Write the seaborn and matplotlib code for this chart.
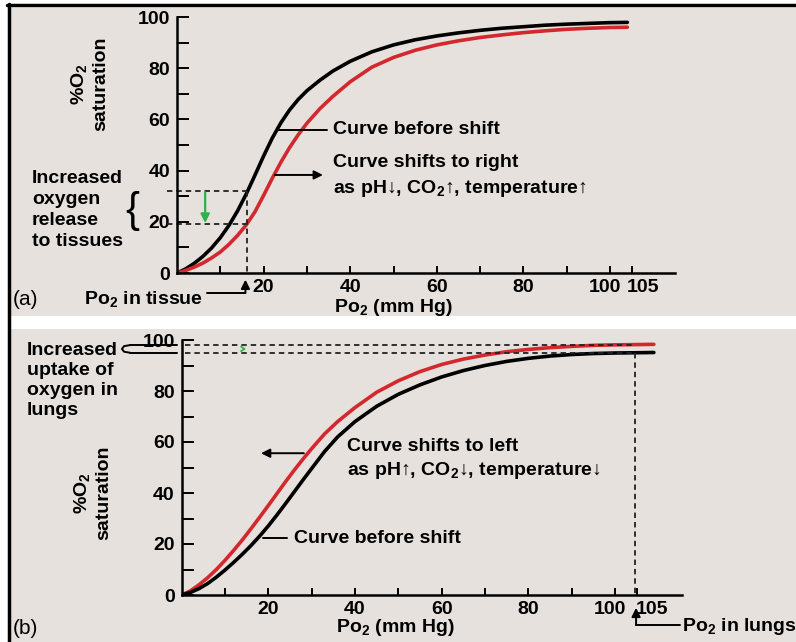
import matplotlib
matplotlib.use("Agg")
import matplotlib.pyplot as plt
from matplotlib.patches import Rectangle
from matplotlib.lines import Line2D
from matplotlib.transforms import ScaledTranslation
import seaborn as sns

# ---------------------------------------------------------
# Data
# ---------------------------------------------------------
# (a) shift to the right
po2_a = [0, 2, 4, 6, 8, 10, 12, 14, 16, 18, 20, 22, 24, 26, 28, 30, 33, 36, 40,
         45, 50, 55, 60, 65, 70, 75, 80, 85, 90, 95, 100, 104]
sat_before_a = [0, 1.6, 3.8, 6.5, 9.8, 13.8, 18.6, 24.3, 30.9, 38.2, 45.7, 52.7,
                58.7, 63.7, 67.8, 71.2, 75.3, 78.9, 82.7, 86.4, 89.1, 91.1, 92.6,
                93.8, 94.8, 95.6, 96.2, 96.8, 97.2, 97.5, 97.8, 97.9]
sat_right_a = [0, 1.0, 2.3, 3.9, 5.9, 8.2, 11.2, 14.7, 18.8, 23.9, 30.3, 37.0,
               43.3, 49.0, 54.0, 58.5, 64.2, 69.0, 74.7, 80.4, 84.2, 87.0, 89.1,
               90.7, 92.0, 93.0, 93.9, 94.6, 95.2, 95.6, 95.9, 96.0]

# (b) shift to the left
po2_b = [0, 2, 4, 6, 8, 10, 12, 14, 16, 18, 20, 22, 24, 26, 28, 30, 33, 36, 40,
         45, 50, 55, 60, 65, 70, 75, 80, 85, 90, 95, 100, 105, 109]
sat_before_b = [0, 1.0, 2.5, 4.5, 7.0, 9.8, 12.8, 16.0, 19.4, 23.1, 27.1, 31.4,
                35.9, 40.5, 45.1, 49.6, 56.3, 62.0, 68.0, 74.0, 78.7, 82.4, 85.5,
                88.0, 90.0, 91.6, 92.8, 93.7, 94.3, 94.7, 94.9, 95.0, 95.1]
sat_left_b = [0, 1.6, 4.0, 6.8, 10.0, 13.6, 17.5, 21.6, 26.0, 30.5, 35.1, 39.8,
              44.5, 49.0, 53.3, 57.4, 63.2, 68.0, 73.5, 79.5, 84.0, 87.6, 90.4,
              92.5, 94.1, 95.4, 96.3, 97.0, 97.5, 97.9, 98.1, 98.2, 98.3]

x_ticks = [20, 40, 60, 80, 100, 105]
x_minor = [10, 30, 50, 70, 90]
y_ticks = [0, 20, 40, 60, 80, 100]
y_minor = [10, 30, 50, 70, 90]

tissue_po2 = 16.2
tissue_sat = [32, 19]
lung_po2 = 104.7
lung_sat = [98, 95]

RED = '#d2282e'
GREEN = '#2db34a'
BG = '#e7e1dd'

sns.set_theme(style="ticks")
plt.rcParams['font.family'] = ['Liberation Sans', 'DejaVu Sans']
plt.rcParams['font.weight'] = 'bold'
plt.rcParams['text.color'] = 'black'
plt.rcParams['mathtext.fontset'] = 'custom'
plt.rcParams['mathtext.rm'] = 'Liberation Sans:bold'
plt.rcParams['mathtext.it'] = 'Liberation Sans:bold'
plt.rcParams['mathtext.bf'] = 'Liberation Sans:bold'
plt.rcParams['mathtext.default'] = 'rm'

fig = plt.figure(figsize=(7.96, 6.42), dpi=100)
W, H = 796, 642

# panel backgrounds and frame
fig.add_artist(Rectangle((11 / W, 1 - 316 / H), 1, 308 / H, transform=fig.transFigure,
                         facecolor=BG, edgecolor='none', zorder=-5))
fig.add_artist(Rectangle((11 / W, 0), 1, 1 - 329 / H, transform=fig.transFigure,
                         facecolor=BG, edgecolor='none', zorder=-5))
fig.add_artist(Line2D([7 / W, 1], [1 - 5 / H, 1 - 5 / H], transform=fig.transFigure,
                      color='black', lw=2.5))
fig.add_artist(Line2D([8.5 / W, 8.5 / W], [0, 1 - 4 / H], transform=fig.transFigure,
                      color='black', lw=2.5))

ax_a = fig.add_axes([177 / W, 1 - 273 / H, 498 / W, 256 / H])
ax_b = fig.add_axes([181.7 / W, 1 - 595 / H, 500.3 / W, 255 / H])


def style_axes(ax, xmax, shift_105):
    ax.set_facecolor('none')
    ax.set_xlim(0, xmax)
    ax.set_ylim(0, 100)
    ax.set_xticks(x_ticks)
    ax.set_xticks(x_minor, minor=True)
    ax.set_yticks(y_ticks)
    ax.set_yticks(y_minor, minor=True)
    ax.set_xticklabels([str(t) for t in x_ticks])
    sns.despine(ax=ax)
    for s in ['left', 'bottom']:
        ax.spines[s].set_linewidth(1.8)
        ax.spines[s].set_color('black')
    ax.tick_params(axis='y', which='both', direction='in', length=8.5, width=1.4,
                   color='black', labelsize=14, pad=5, labelcolor='black')
    ax.tick_params(axis='x', which='both', direction='in', length=5, width=1.4,
                   color='black', labelsize=14, pad=4, labelcolor='black')
    # "100" and "105" sit close together, nudge them apart like the original
    for lab, t in zip(ax.get_xticklabels(), x_ticks):
        if t == 100:
            lab.set_transform(lab.get_transform() + ScaledTranslation(-0.05, 0, fig.dpi_scale_trans))
        if t == 105:
            lab.set_transform(lab.get_transform() + ScaledTranslation(shift_105, 0, fig.dpi_scale_trans))
    ax.set_xlabel('')
    ax.set_ylabel('')


dash = dict(color='#222222', lw=1.3, linestyle=(0, (3, 2.2)), clip_on=False)
arrow = dict(arrowstyle='-|>', lw=1.4, color='black', mutation_scale=13,
             shrinkA=0, shrinkB=0)
fs = 14

# ---------------------------------------------------------
# (a) Curve shifts to right
# ---------------------------------------------------------
sns.lineplot(x=po2_a, y=sat_before_a, ax=ax_a, color='black', lw=2.6)
sns.lineplot(x=po2_a, y=sat_right_a, ax=ax_a, color=RED, lw=2.6)
style_axes(ax_a, 115, 0.11)

for s in tissue_sat:
    ax_a.plot([-2.3, tissue_po2], [s, s], **dash)
ax_a.plot([tissue_po2, tissue_po2], [tissue_sat[0], 0], **dash)
ax_a.annotate('', xy=(6.5, tissue_sat[1] + 0.5), xytext=(6.5, tissue_sat[0] - 0.5),
              arrowprops=dict(arrowstyle='-|>', lw=1.6, color=GREEN, mutation_scale=13,
                              shrinkA=0, shrinkB=0))

ax_a.text(-20.4, 73.8, '%O$_2$\nsaturation', rotation=90, ha='center', va='center',
          fontsize=fs, linespacing=1.25)
ax_a.text(-33.5, 24.5, 'Increased\noxygen\nrelease\nto tissues', ha='left', va='center',
          fontsize=fs, linespacing=1.3)
ax_a.text(-10.4, 24.2, '{', ha='center', va='center', fontsize=30, fontweight='light')

ax_a.plot([23, 34.6], [56, 56], color='black', lw=1.4)
ax_a.text(36.1, 56, 'Curve before shift', ha='left', va='center', fontsize=fs)
ax_a.annotate('', xy=(33.7, 38.3), xytext=(22.6, 38.3), arrowprops=arrow)
ax_a.text(36.1, 43.0, 'Curve shifts to right', ha='left', va='center', fontsize=fs)
ax_a.text(36.1, 33.2, 'as pH\u2193, CO$_2$\u2191, temperature\u2191', ha='left', va='center',
          fontsize=fs)

ax_a.text(49.9, -13.6, 'Po$_2$ (mm Hg)', ha='center', va='center', fontsize=fs)
ax_a.text(6.0, -10.0, 'Po$_2$ in tissue', ha='right', va='center', fontsize=fs)
ax_a.plot([7.0, 15.8], [-7.8, -7.8], color='black', lw=1.4, clip_on=False)
ax_a.annotate('', xy=(15.8, -2.6), xytext=(15.8, -7.8), arrowprops=arrow,
              annotation_clip=False)
ax_a.text(-37.9, -10.4, '(a)', ha='left', va='center', fontsize=15, fontweight='normal')

# ---------------------------------------------------------
# (b) Curve shifts to left
# ---------------------------------------------------------
sns.lineplot(x=po2_b, y=sat_left_b, ax=ax_b, color=RED, lw=2.6)
sns.lineplot(x=po2_b, y=sat_before_b, ax=ax_b, color='black', lw=2.6)
style_axes(ax_b, 115.5, 0.15)

for s in lung_sat:
    ax_b.plot([0.8, lung_po2], [s, s], **dash)
    ax_b.plot([-11.9, -1.0], [s, s], color='black', lw=1.4, clip_on=False)
ax_b.plot([lung_po2, lung_po2], [lung_sat[1], 0], **dash)
# rounded tip of the bracket
ax_b.plot([-11.9, -13.3, -13.8, -13.3, -11.9], [98, 97.6, 96.5, 95.4, 95],
          color='black', lw=1.4, clip_on=False)
ax_b.plot([13.7, 14.5, 13.7], [97.4, 96.5, 95.6], color=GREEN, lw=1.3)

ax_b.text(-20.7, 40, '%O$_2$\nsaturation', rotation=90, ha='center', va='center',
          fontsize=fs, linespacing=1.25)
ax_b.text(-35.7, 99.4, 'Increased\nuptake of\noxygen in\nlungs', ha='left', va='top',
          fontsize=fs, linespacing=1.25)

ax_b.annotate('', xy=(18.3, 55.6), xytext=(28.2, 55.6), arrowprops=arrow)
ax_b.text(38.2, 58.4, 'Curve shifts to left', ha='left', va='center', fontsize=fs)
ax_b.text(38.2, 49.0, 'as pH\u2191, CO$_2$\u2193, temperature\u2193', ha='left', va='center',
          fontsize=fs)
ax_b.plot([18.7, 24.3], [22.2, 22.2], color='black', lw=1.4)
ax_b.text(26.0, 22.2, 'Curve before shift', ha='left', va='center', fontsize=fs)

ax_b.text(49.3, -12.9, 'Po$_2$ (mm Hg)', ha='center', va='center', fontsize=fs)
ax_b.text(115.5, -12.4, 'Po$_2$ in lungs', ha='left', va='center', fontsize=fs)
ax_b.plot([104.9, 115.0], [-11.8, -11.8], color='black', lw=1.4, clip_on=False)
ax_b.annotate('', xy=(104.9, -5.0), xytext=(104.9, -11.8), arrowprops=arrow,
              annotation_clip=False)
ax_b.text(-39.0, -13.1, '(b)', ha='left', va='center', fontsize=15, fontweight='normal')

fig.savefig('out.png', dpi=100)
